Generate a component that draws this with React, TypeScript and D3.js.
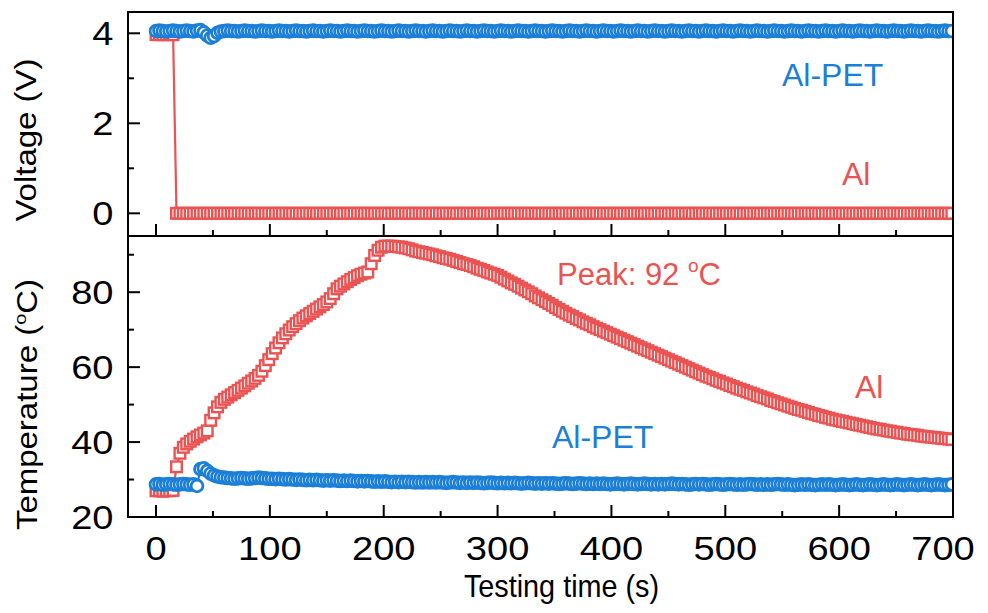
import React from 'react';
import * as d3 from 'd3';

// ---- data (sampled every 3 s) ----
const time = [
  0, 3, 6, 9, 12, 15, 18, 21, 24, 27, 30, 33, 36, 39, 42, 45, 48, 51, 54, 57,
  60, 63, 66, 69, 72, 75, 78, 81, 84, 87, 90, 93, 96, 99, 102, 105, 108, 111, 114, 117,
  120, 123, 126, 129, 132, 135, 138, 141, 144, 147, 150, 153, 156, 159, 162, 165, 168, 171, 174, 177,
  180, 183, 186, 189, 192, 195, 198, 201, 204, 207, 210, 213, 216, 219, 222, 225, 228, 231, 234, 237,
  240, 243, 246, 249, 252, 255, 258, 261, 264, 267, 270, 273, 276, 279, 282, 285, 288, 291, 294, 297,
  300, 303, 306, 309, 312, 315, 318, 321, 324, 327, 330, 333, 336, 339, 342, 345, 348, 351, 354, 357,
  360, 363, 366, 369, 372, 375, 378, 381, 384, 387, 390, 393, 396, 399, 402, 405, 408, 411, 414, 417,
  420, 423, 426, 429, 432, 435, 438, 441, 444, 447, 450, 453, 456, 459, 462, 465, 468, 471, 474, 477,
  480, 483, 486, 489, 492, 495, 498, 501, 504, 507, 510, 513, 516, 519, 522, 525, 528, 531, 534, 537,
  540, 543, 546, 549, 552, 555, 558, 561, 564, 567, 570, 573, 576, 579, 582, 585, 588, 591, 594, 597,
  600, 603, 606, 609, 612, 615, 618, 621, 624, 627, 630, 633, 636, 639, 642, 645, 648, 651, 654, 657,
  660, 663, 666, 669, 672, 675, 678, 681, 684, 687, 690, 693, 696, 699,
];

const voltAl = [
  3.97, 3.97, 3.97, 3.97, 3.97, 3.97, 0, 0, 0, 0, 0, 0, 0, 0, 0, 0, 0, 0, 0, 0,
  0, 0, 0, 0, 0, 0, 0, 0, 0, 0, 0, 0, 0, 0, 0, 0, 0, 0, 0, 0,
  0, 0, 0, 0, 0, 0, 0, 0, 0, 0, 0, 0, 0, 0, 0, 0, 0, 0, 0, 0,
  0, 0, 0, 0, 0, 0, 0, 0, 0, 0, 0, 0, 0, 0, 0, 0, 0, 0, 0, 0,
  0, 0, 0, 0, 0, 0, 0, 0, 0, 0, 0, 0, 0, 0, 0, 0, 0, 0, 0, 0,
  0, 0, 0, 0, 0, 0, 0, 0, 0, 0, 0, 0, 0, 0, 0, 0, 0, 0, 0, 0,
  0, 0, 0, 0, 0, 0, 0, 0, 0, 0, 0, 0, 0, 0, 0, 0, 0, 0, 0, 0,
  0, 0, 0, 0, 0, 0, 0, 0, 0, 0, 0, 0, 0, 0, 0, 0, 0, 0, 0, 0,
  0, 0, 0, 0, 0, 0, 0, 0, 0, 0, 0, 0, 0, 0, 0, 0, 0, 0, 0, 0,
  0, 0, 0, 0, 0, 0, 0, 0, 0, 0, 0, 0, 0, 0, 0, 0, 0, 0, 0, 0,
  0, 0, 0, 0, 0, 0, 0, 0, 0, 0, 0, 0, 0, 0, 0, 0, 0, 0, 0, 0,
  0, 0, 0, 0, 0, 0, 0, 0, 0, 0, 0, 0, 0, 0,
];

const voltAlPET = [
  4.05, 4.06, 4.05, 4.04, 4.05, 4.06, 4.05, 4.04, 4.05, 4.06, 4.05, 4.04, 4.06, 4.07, 4.02, 3.95, 3.90, 3.94, 4.01, 4.04,
  4.05, 4.06, 4.05, 4.05, 4.04, 4.05, 4.06, 4.05, 4.05, 4.04, 4.05, 4.06, 4.05, 4.05, 4.04, 4.05, 4.06, 4.05, 4.05, 4.04,
  4.05, 4.06, 4.05, 4.05, 4.04, 4.05, 4.06, 4.05, 4.05, 4.04, 4.05, 4.06, 4.05, 4.05, 4.04, 4.05, 4.06, 4.05, 4.05, 4.04,
  4.05, 4.06, 4.05, 4.05, 4.04, 4.05, 4.06, 4.05, 4.05, 4.04, 4.05, 4.06, 4.05, 4.05, 4.04, 4.05, 4.06, 4.05, 4.05, 4.04,
  4.05, 4.06, 4.05, 4.05, 4.04, 4.05, 4.06, 4.05, 4.05, 4.04, 4.05, 4.06, 4.05, 4.05, 4.04, 4.05, 4.06, 4.05, 4.05, 4.04,
  4.05, 4.06, 4.05, 4.05, 4.04, 4.05, 4.06, 4.05, 4.05, 4.04, 4.05, 4.06, 4.05, 4.05, 4.04, 4.05, 4.06, 4.05, 4.05, 4.04,
  4.05, 4.06, 4.05, 4.05, 4.04, 4.05, 4.06, 4.05, 4.05, 4.04, 4.05, 4.06, 4.05, 4.05, 4.04, 4.05, 4.06, 4.05, 4.05, 4.04,
  4.05, 4.06, 4.05, 4.05, 4.04, 4.05, 4.06, 4.05, 4.05, 4.04, 4.05, 4.06, 4.05, 4.05, 4.04, 4.05, 4.06, 4.05, 4.05, 4.04,
  4.05, 4.06, 4.05, 4.05, 4.04, 4.05, 4.06, 4.05, 4.05, 4.04, 4.05, 4.06, 4.05, 4.05, 4.04, 4.05, 4.06, 4.05, 4.05, 4.04,
  4.05, 4.06, 4.05, 4.05, 4.04, 4.05, 4.06, 4.05, 4.05, 4.04, 4.05, 4.06, 4.05, 4.05, 4.04, 4.05, 4.06, 4.05, 4.05, 4.04,
  4.05, 4.06, 4.05, 4.05, 4.04, 4.05, 4.06, 4.05, 4.05, 4.04, 4.05, 4.06, 4.05, 4.05, 4.04, 4.05, 4.06, 4.05, 4.05, 4.04,
  4.05, 4.06, 4.05, 4.05, 4.04, 4.05, 4.06, 4.05, 4.05, 4.04, 4.05, 4.06, 4.05, 4.05,
];

const tempAl = [
  27.0, 27.0, 26.9, 27.0, 27.0, 27.1, 33.4, 37.0, 38.6, 39.5, 40.2, 40.8, 41.4, 41.9, 42.4, 43.0, 45.8, 47.8, 49.4, 50.6,
  51.4, 52.0, 52.6, 53.2, 53.8, 54.4, 55.0, 55.7, 56.3, 57.0, 57.8, 58.9, 60.4, 62.0, 63.6, 65.1, 66.5, 67.8, 68.9, 69.9,
  70.8, 71.6, 72.4, 73.1, 73.7, 74.3, 74.9, 75.5, 76.1, 76.7, 77.4, 78.3, 79.6, 80.9, 81.6, 82.2, 82.8, 83.4, 83.9, 84.4,
  84.8, 85.1, 85.4, 87.6, 89.8, 91.2, 92.0, 92.3, 92.3, 92.3, 92.2, 92.1, 92.0, 91.8, 91.6, 91.3, 91.0, 90.8, 90.6, 90.4,
  90.2, 90.0, 89.7, 89.5, 89.2, 89.0, 88.8, 88.5, 88.2, 87.9, 87.6, 87.4, 87.1, 86.8, 86.4, 86.1, 85.8, 85.4, 85.1, 84.8,
  84.5, 84.0, 83.5, 83.0, 82.5, 82.1, 81.6, 81.1, 80.6, 80.1, 79.6, 79.0, 78.5, 78.0, 77.5, 77.0, 76.5, 75.9, 75.4, 74.9,
  74.4, 73.9, 73.5, 73.0, 72.6, 72.1, 71.7, 71.3, 70.8, 70.4, 70.0, 69.6, 69.2, 68.8, 68.4, 68.0, 67.6, 67.2, 66.8, 66.4,
  66.0, 65.6, 65.2, 64.8, 64.4, 64.0, 63.6, 63.2, 62.8, 62.4, 62.0, 61.6, 61.2, 60.8, 60.4, 60.0, 59.6, 59.2, 58.8, 58.4,
  58.0, 57.6, 57.3, 56.9, 56.5, 56.2, 55.8, 55.5, 55.1, 54.8, 54.4, 54.1, 53.8, 53.4, 53.1, 52.8, 52.4, 52.1, 51.8, 51.5,
  51.1, 50.8, 50.5, 50.2, 49.9, 49.6, 49.3, 49.0, 48.7, 48.5, 48.2, 47.9, 47.6, 47.4, 47.1, 46.9, 46.6, 46.4, 46.1, 45.9,
  45.7, 45.5, 45.3, 45.1, 44.9, 44.7, 44.5, 44.3, 44.1, 43.9, 43.7, 43.5, 43.4, 43.2, 43.0, 42.9, 42.7, 42.6, 42.4, 42.3,
  42.1, 42.0, 41.9, 41.8, 41.6, 41.5, 41.4, 41.3, 41.2, 41.1, 41.0, 40.9, 40.8, 40.7,
];

const tempAlPET = [
  28.7, 28.8, 28.6, 28.7, 28.8, 28.7, 28.6, 28.7, 28.8, 28.7, 28.6, 28.7, 28.3, 32.8, 33.0, 32.3, 31.6, 31.1, 30.8, 30.6,
  30.5, 30.4, 30.3, 30.2, 30.3, 30.4, 30.3, 30.2, 30.3, 30.4, 30.5, 30.4, 30.3, 30.2, 30.2, 30.1, 30.2, 30.1, 30.0, 30.1,
  30.0, 29.9, 30.0, 29.9, 29.8, 29.9, 29.8, 29.9, 29.8, 29.7, 29.8, 29.7, 29.8, 29.7, 29.6, 29.7, 29.6, 29.7, 29.6, 29.5,
  29.6, 29.5, 29.6, 29.5, 29.4, 29.5, 29.4, 29.5, 29.4, 29.3, 29.4, 29.3, 29.4, 29.3, 29.4, 29.3, 29.2, 29.3, 29.2, 29.3,
  29.2, 29.3, 29.2, 29.3, 29.2, 29.1, 29.2, 29.3, 29.2, 29.1, 29.2, 29.1, 29.2, 29.1, 29.2, 29.1, 29.0, 29.1, 29.2, 29.1,
  29.0, 29.1, 29.0, 29.1, 29.0, 29.1, 29.0, 28.9, 29.0, 29.1, 29.0, 28.9, 29.0, 28.9, 29.0, 28.9, 29.0, 28.9, 28.8, 28.9,
  29.0, 28.9, 28.8, 28.9, 29.0, 28.9, 28.8, 28.9, 28.8, 28.9, 28.8, 28.9, 28.8, 28.7, 28.8, 28.9, 28.8, 28.7, 28.8, 28.9,
  28.8, 28.7, 28.8, 28.9, 28.8, 28.7, 28.8, 28.7, 28.8, 28.7, 28.8, 28.9, 28.8, 28.7, 28.8, 28.7, 28.6, 28.7, 28.8, 28.7,
  28.8, 28.7, 28.6, 28.7, 28.8, 28.7, 28.6, 28.7, 28.8, 28.7, 28.6, 28.7, 28.6, 28.7, 28.8, 28.7, 28.6, 28.7, 28.6, 28.7,
  28.6, 28.7, 28.8, 28.7, 28.6, 28.7, 28.6, 28.5, 28.6, 28.7, 28.6, 28.7, 28.6, 28.5, 28.6, 28.7, 28.6, 28.7, 28.6, 28.5,
  28.6, 28.7, 28.6, 28.5, 28.6, 28.7, 28.6, 28.5, 28.6, 28.7, 28.6, 28.5, 28.6, 28.7, 28.6, 28.5, 28.6, 28.7, 28.6, 28.5,
  28.6, 28.7, 28.6, 28.5, 28.6, 28.7, 28.6, 28.5, 28.6, 28.7, 28.6, 28.5, 28.6, 28.7,
];

const xMajor = [0, 100, 200, 300, 400, 500, 600, 700];
const xMinor = [50, 150, 250, 350, 450, 550, 650];
const vMajor = [0, 2, 4];
const vMinor = [1, 3];
const tMajor = [20, 40, 60, 80];
const tMinor = [30, 50, 70, 90];

const RED = '#EB5353';
const BLUE = '#1B7FD7';
const FONT = '"Liberation Sans", Arial, Helvetica, sans-serif';

export default function App() {
  const W = 988, H = 613;
  const L = 128, R = 953, TOP = 12, MID = 236, BOT = 517;
  const x = d3.scaleLinear().domain([-24.6, 700]).range([L, R]);
  const yV = d3.scaleLinear().domain([-0.504, 4.473]).range([MID, TOP]);
  const yT = d3.scaleLinear().domain([20, 95]).range([BOT, MID]);
  const idx = d3.range(time.length);

  const lineOf = (vals: number[], y: d3.ScaleLinear<number, number>) =>
    d3.line<number>().x((i) => x(time[i])).y((i) => y(vals[i]))(idx) || '';

  const sq = 10.6;
  const squares = (vals: number[], y: d3.ScaleLinear<number, number>) =>
    idx.map((i) => (
      <rect key={i} x={x(time[i]) - sq / 2} y={y(vals[i]) - sq / 2} width={sq} height={sq}
        fill="#fff" stroke={RED} strokeWidth={2.4} />
    ));
  const circles = (vals: number[], y: d3.ScaleLinear<number, number>) =>
    idx.map((i) => (
      <circle key={i} cx={x(time[i])} cy={y(vals[i])} r={5.9}
        fill="#fff" stroke={BLUE} strokeWidth={2.8} />
    ));

  const MAJ = 12, MIN = 6;

  return (
    <svg width={W} height={H} style={{ position: 'absolute', left: 0, top: 0, display: 'block', background: '#fff' }}
      fontFamily={FONT}>
      <defs>
        <clipPath id="clipTop"><rect x={L} y={TOP} width={R - L} height={MID - TOP} /></clipPath>
        <clipPath id="clipBot"><rect x={L} y={MID} width={R - L} height={BOT - MID} /></clipPath>
      </defs>
      <rect x={0} y={0} width={W} height={H} fill="#fff" />

      {/* top panel data */}
      <g clipPath="url(#clipTop)">
        <path d={lineOf(voltAl, yV)} fill="none" stroke={RED} strokeWidth={2.2} />
        {squares(voltAl, yV)}
        <path d={lineOf(voltAlPET, yV)} fill="none" stroke={BLUE} strokeWidth={2.2} />
        {circles(voltAlPET, yV)}
      </g>

      {/* bottom panel data */}
      <g clipPath="url(#clipBot)">
        <path d={lineOf(tempAl, yT)} fill="none" stroke={RED} strokeWidth={2.2} />
        {squares(tempAl, yT)}
        <path d={lineOf(tempAlPET, yT)} fill="none" stroke={BLUE} strokeWidth={2.2} />
        {circles(tempAlPET, yT)}
      </g>

      {/* frame */}
      <g stroke="#000" strokeWidth={2} fill="none">
        <rect x={L} y={TOP} width={R - L} height={BOT - TOP} />
        <line x1={L} x2={R} y1={MID} y2={MID} />
        {[MID, BOT].map((yy) => (
          <g key={yy}>
            {xMajor.map((v) => <line key={'M' + v} x1={x(v)} x2={x(v)} y1={yy} y2={yy - MAJ} />)}
            {xMinor.map((v) => <line key={'m' + v} x1={x(v)} x2={x(v)} y1={yy} y2={yy - MIN} />)}
          </g>
        ))}
        {vMajor.map((v) => <line key={'vM' + v} x1={L} x2={L + MAJ} y1={yV(v)} y2={yV(v)} />)}
        {vMinor.map((v) => <line key={'vm' + v} x1={L} x2={L + MIN} y1={yV(v)} y2={yV(v)} />)}
        {tMajor.map((v) => <line key={'tM' + v} x1={L} x2={L + MAJ} y1={yT(v)} y2={yT(v)} />)}
        {tMinor.map((v) => <line key={'tm' + v} x1={L} x2={L + MIN} y1={yT(v)} y2={yT(v)} />)}
      </g>

      {/* tick labels */}
      <g fontSize={34} fill="#000">
        {xMajor.map((v) => (
          <text key={'xl' + v} transform={`translate(${x(v) + (v === 700 ? -10 : 0)},560) scale(1.12,1)`}
            textAnchor="middle">{v}</text>
        ))}
        {vMajor.map((v) => (
          <text key={'vl' + v} transform={`translate(113.5,${yV(v) + 12}) scale(1.12,1)`} textAnchor="end">{v}</text>
        ))}
        {tMajor.map((v) => (
          <text key={'tl' + v} transform={`translate(113.5,${yT(v) + 12}) scale(1.12,1)`} textAnchor="end">{v}</text>
        ))}
      </g>

      {/* axis titles */}
      <g fill="#000">
        <text fontSize={32} transform="translate(561.5,597) scale(0.9,1)" textAnchor="middle">Testing time (s)</text>
        <text fontSize={33} transform="translate(36,140) scale(0.87,1) rotate(-90)" textAnchor="middle">Voltage (V)</text>
        <text fontSize={33} transform="translate(37,404.5) scale(0.87,1) rotate(-90)" textAnchor="middle">
          Temperature (<tspan fontSize={20} dy={-13}>o</tspan><tspan dy={13}>C)</tspan>
        </text>
      </g>

      {/* annotations */}
      <g fontSize={32}>
        <text x={782} y={86} fill={BLUE}>Al-PET</text>
        <text x={842} y={185} fill={RED}>Al</text>
        <text x={557} y={285} fill={RED} fontSize={31}>
          Peak: 92 <tspan fontSize={19} dy={-13}>o</tspan><tspan dy={13}>C</tspan>
        </text>
        <text x={855} y={398} fill={RED}>Al</text>
        <text x={552} y={448} fill={BLUE}>Al-PET</text>
      </g>
    </svg>
  );
}
